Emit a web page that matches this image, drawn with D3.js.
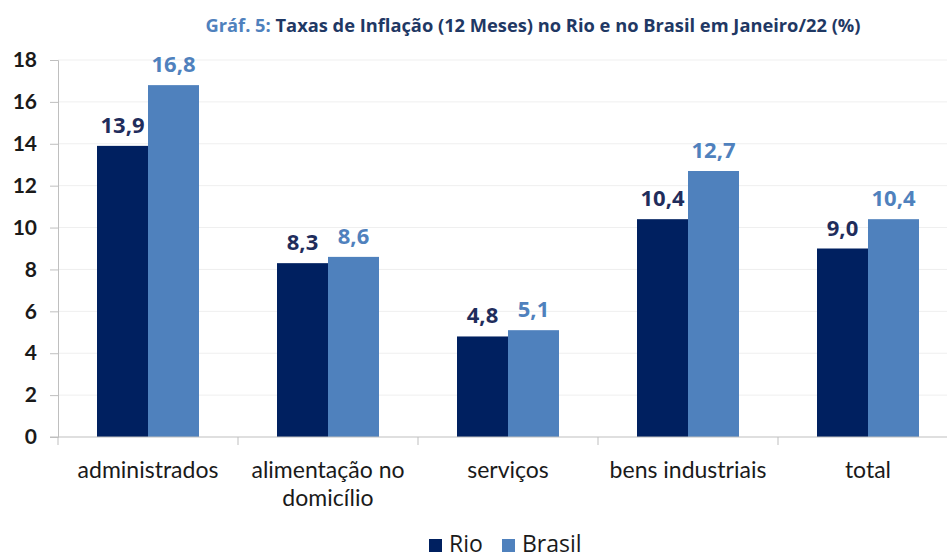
<!DOCTYPE html>
<html>
<head>
<meta charset="utf-8">
<script src="https://cdn.jsdelivr.net/npm/d3@7"></script>
<style>
  body { margin: 0; background: #fff; }
  svg { display: block; }
</style>
</head>
<body>
<svg id="chart" width="947" height="558"></svg>
<script>
// data
const categories = [["administrados"], ["alimentação no", "domicílio"], ["serviços"], ["bens industriais"], ["total"]];
const series = ["Rio", "Brasil"];
const rio = [13.9, 8.3, 4.8, 10.4, 9.0];
const brasil = [16.8, 8.6, 5.1, 12.7, 10.4];
const yTicks = [0, 2, 4, 6, 8, 10, 12, 14, 16, 18];

const colors = { Rio: "#002060", Brasil: "#4f81bd" };
const labelColors = { Rio: "#1f2d5c", Brasil: "#4f81bd" };

const margin = { left: 58, top: 60, bottom: 121 };
const width = 947, height = 558;
const svg = d3.select("#chart");

// one band per category, bars inside
const band = d3.scaleBand().domain(d3.range(categories.length))
    .range([margin.left, margin.left + 180 * categories.length]);
const inner = d3.scaleBand().domain(series).range([39, 141]);

const y = d3.scaleLinear().domain([0, 18]).range([height - margin.bottom, margin.top]);

// title
const title = svg.append("text")
    .attr("x", 533).attr("y", 32)
    .attr("text-anchor", "middle")
    .style("font-family", "'Open Sans', sans-serif")
    .style("font-weight", "bold")
    .style("font-size", "18.3px");
title.append("tspan").attr("fill", "#4f81bd").text("Gráf. 5: ");
title.append("tspan").attr("fill", "#1f3864").text("Taxas de Inflação (12 Meses) no Rio e no Brasil em Janeiro/22 (%)");

// gridlines
svg.append("g").selectAll("line")
    .data(yTicks.slice(1))
    .join("line")
    .attr("x1", margin.left).attr("x2", width)
    .attr("y1", d => y(d)).attr("y2", d => y(d))
    .attr("stroke", "#efefef");

// y axis
const yAxis = svg.append("g")
    .attr("transform", `translate(${margin.left},0)`)
    .call(d3.axisLeft(y).tickValues(yTicks).tickSize(8).tickPadding(13).tickFormat(d3.format("d")));
yAxis.select(".domain").attr("stroke", "#bfbfbf");
yAxis.selectAll(".tick line").attr("stroke", "#bfbfbf");
yAxis.selectAll(".tick text")
    .attr("fill", "#1a1a1a")
    .style("font-family", "Lato, sans-serif")
    .style("font-weight", "bold")
    .style("font-size", "21px");

// bars
const data = categories.map((c, i) => ({ i, values: [{ s: "Rio", v: rio[i] }, { s: "Brasil", v: brasil[i] }] }));
const groups = svg.append("g").selectAll("g")
    .data(data)
    .join("g")
    .attr("transform", d => `translate(${band(d.i)},0)`);

groups.selectAll("rect")
    .data(d => d.values)
    .join("rect")
    .attr("x", d => inner(d.s))
    .attr("width", inner.bandwidth())
    .attr("y", d => y(d.v))
    .attr("height", d => y(0) - y(d.v))
    .attr("fill", d => colors[d.s]);

groups.selectAll("text")
    .data(d => d.values)
    .join("text")
    .attr("x", d => inner(d.s) + inner.bandwidth() / 2)
    .attr("y", d => y(d.v) - 13)
    .attr("text-anchor", "middle")
    .attr("fill", d => labelColors[d.s])
    .style("font-family", "'Open Sans', sans-serif")
    .style("font-weight", "bold")
    .style("font-size", "22px")
    .text(d => d3.format(".1f")(d.v).replace(".", ","));

// x axis
const x0 = y(0);
svg.append("line")
    .attr("x1", margin.left - 8).attr("x2", width)
    .attr("y1", x0).attr("y2", x0)
    .attr("stroke", "#bfbfbf");
svg.append("g").selectAll("line")
    .data(d3.range(categories.length + 1))
    .join("line")
    .attr("x1", d => margin.left + 180 * d).attr("x2", d => margin.left + 180 * d)
    .attr("y1", x0).attr("y2", x0 + 8)
    .attr("stroke", "#bfbfbf");

svg.append("g").selectAll("text")
    .data(categories)
    .join("text")
    .attr("x", (d, i) => band(i) + band.bandwidth() / 2)
    .attr("y", 478)
    .attr("text-anchor", "middle")
    .attr("fill", "#1a1a1a")
    .style("font-family", "Lato, sans-serif")
    .style("font-size", "23px")
    .each(function (d) {
      d3.select(this).selectAll("tspan")
        .data(d)
        .join("tspan")
        .attr("x", d3.select(this).attr("x"))
        .attr("dy", (t, k) => k === 0 ? 0 : 28)
        .text(t => t);
    });

// legend
const legend = svg.append("g").attr("transform", "translate(429,552)");
const legendX = { Rio: 0, Brasil: 73 };
series.forEach(s => {
  legend.append("rect")
      .attr("x", legendX[s]).attr("y", -13)
      .attr("width", 13).attr("height", 13)
      .attr("fill", colors[s]);
  legend.append("text")
      .attr("x", legendX[s] + 20).attr("y", 0)
      .attr("fill", "#1a1a1a")
      .style("font-family", "'Open Sans', sans-serif")
      .style("font-size", "23px")
      .text(s);
});
</script>
</body>
</html>
